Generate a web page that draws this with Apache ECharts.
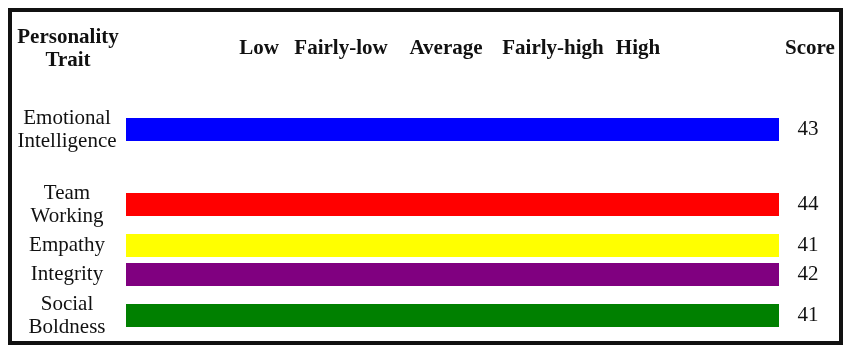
<!DOCTYPE html>
<html>
<head>
<meta charset="utf-8">
<script src="https://cdn.jsdelivr.net/npm/echarts@6/dist/echarts.min.js"></script>
<style>html,body{margin:0;padding:0;background:#fff}#c{width:852px;height:362px}</style>
</head>
<body>
<div id="c"></div>
<script>
const traits = ['Emotional\nIntelligence', 'Team\nWorking', 'Empathy', 'Integrity', 'Social\nBoldness'];
const scores = [43, 44, 41, 42, 41];
const barFill = [100, 100, 100, 100, 100];
const levelLabels = ['Low', 'Fairly-low', 'Average', 'Fairly-high', 'High'];
const colors = ['#0000ff', '#ff0000', '#ffff00', '#800080', '#008000'];

const rowTops = [118, 193, 234, 263, 304];
const levelX = [259, 341, 446, 553, 638];
const FONT = '"Liberation Serif", "Times New Roman", serif';

const grids = [], xAxes = [], yAxes = [], series = [];
traits.forEach((t, i) => {
  grids.push({ left: 126, right: 73, top: rowTops[i], height: 23 });
  xAxes.push({ type: 'value', gridIndex: i, min: 0, max: 100, show: false });
  yAxes.push({
    type: 'category', gridIndex: i, data: [t], position: 'left',
    axisLine: { show: false }, axisTick: { show: false },
    axisLabel: { align: 'center', margin: 59, fontFamily: FONT, fontSize: 21, color: '#111', lineHeight: 23, padding: [3, 0, 0, 0] }
  });
  yAxes.push({
    type: 'category', gridIndex: i, data: [String(scores[i])], position: 'right',
    axisLine: { show: false }, axisTick: { show: false },
    axisLabel: { align: 'center', margin: 29, fontFamily: FONT, fontSize: 21, color: '#111', padding: [3, 0, 0, 0] }
  });
  series.push({
    type: 'bar', xAxisIndex: i, yAxisIndex: i * 2, data: [barFill[i]],
    barWidth: '100%', itemStyle: { color: colors[i] }, silent: true
  });
});

const headerStyle = { fontFamily: FONT, fontSize: 21, fontWeight: 'bold', fill: '#111', align: 'center', verticalAlign: 'middle' };
const graphic = [
  { type: 'rect', shape: { x: 10, y: 10, width: 831, height: 333 }, style: { fill: 'none', stroke: '#111', lineWidth: 4 } },
  { type: 'text', x: 68, y: 49, style: Object.assign({ text: 'Personality\nTrait', lineHeight: 23 }, headerStyle) },
  { type: 'text', x: 810, y: 49, style: Object.assign({ text: 'Score' }, headerStyle) }
];
levelLabels.forEach((l, i) => {
  graphic.push({ type: 'text', x: levelX[i], y: 49, style: Object.assign({ text: l }, headerStyle) });
});

const chart = echarts.init(document.getElementById('c'), null, { renderer: 'canvas' });
chart.setOption({
  animation: false,
  backgroundColor: '#fff',
  grid: grids, xAxis: xAxes, yAxis: yAxes, series: series, graphic: graphic
});
</script>
</body>
</html>
